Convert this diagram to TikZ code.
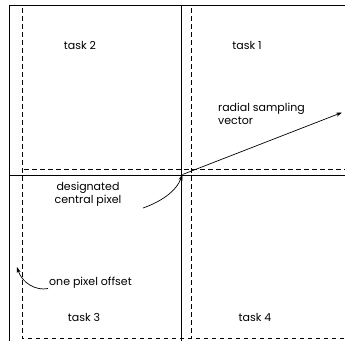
\documentclass[tikz,border=0pt]{standalone}
\usepackage{fontspec}
\setmainfont{Poppins}
\usetikzlibrary{arrows.meta}
\begin{document}
\begin{tikzpicture}[x=1pt,y=-1pt,
  solidline/.style={line width=0.9pt,black},
  dashline/.style={line width=0.8pt,black,dash pattern=on 4.5pt off 3.5pt},
  lbl/.style={font=\fontsize{11}{12.5}\selectfont,inner sep=0pt,text=black},
  leader/.style={line width=0.7pt,-{Stealth[length=6pt,width=4pt]}}]
\useasboundingbox (0,0) rectangle (345,341);
% solid grid
\draw[solidline] (9.5,341) -- (9.5,5.5) -- (345,5.5);
\draw[solidline] (181,5.5) -- (181,341);
\draw[solidline] (9.5,175) -- (345,175);
% dashed grid (one pixel offset)
\draw[dashline] (22,8) -- (22,338.5) -- (345,338.5);
\draw[dashline] (191,8) -- (191,338.5);
\draw[dashline] (24,169.5) -- (345,169.5);
% labels
\node[lbl] (t2) at (80,45) {task 2};
\node[lbl] (t1) at (247,45) {task 1};
\node[lbl] (t3) at (84,317) {task 3};
\node[lbl] (t4) at (255,317) {task 4};
\node[lbl,anchor=west,align=left] (rsv) at (218,114) {radial sampling\\vector};
\node[lbl,align=center] (dcp) at (88,194) {designated\\central pixel};
\node[lbl,anchor=west] (off) at (49,283) {one pixel offset};
% coordinates
\coordinate (cp) at (182.5,174.5);
\coordinate (vend) at (342,112.5);
\coordinate (offpt) at (17,267);
\coordinate (dstart) at (143,208);
\coordinate (ostart) at (48,288.5);
% connectors
\draw[leader] (cp) -- (vend);
\draw[leader] (dstart) .. controls (160,202) and (176,192) .. (cp);
\draw[leader] (ostart) .. controls (36,291) and (22,283) .. (offpt);
\end{tikzpicture}
\end{document}
